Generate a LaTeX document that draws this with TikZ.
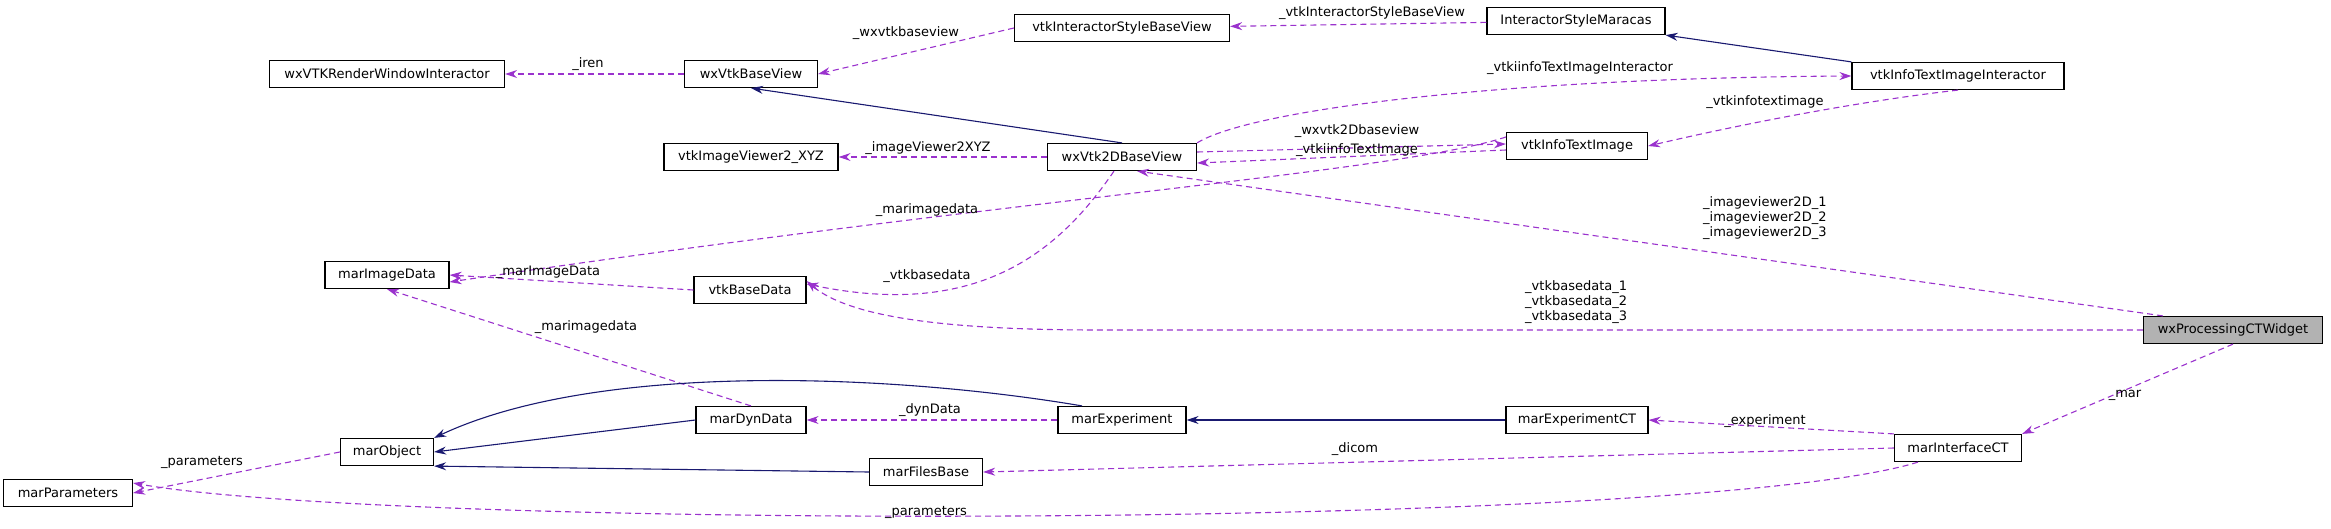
\documentclass[tikz,border=0pt]{standalone}
\usepackage{fontspec}
\setmainfont{DejaVu Sans}
\usetikzlibrary{arrows.meta}
\definecolor{dep}{HTML}{9A32CD}
\definecolor{inh}{HTML}{191970}
\begin{document}
\begin{tikzpicture}[x=1pt,y=-1pt,
  cls/.style={draw,line width=1.2pt,fill=white,minimum height=27pt,inner xsep=6pt,font=\fontsize{13}{15}\selectfont},
  lbl/.style={font=\fontsize{13}{15}\selectfont,inner sep=0pt,align=left},
  dep/.style={draw=dep,line width=1.1pt,dash pattern=on 6pt off 4pt,-{Stealth[length=12pt,width=8pt,fill=dep]}},
  inh/.style={draw=inh,line width=1.1pt,-{Stealth[length=12pt,width=8pt,fill=inh]}}]
\useasboundingbox (0,0) rectangle (2331,528);
\node[cls,minimum width=235pt] (rwi) at (387,74) {wxVTKRenderWindowInteractor};
\node[cls,minimum width=133pt] (bv) at (751,74) {wxVtkBaseView};
\node[cls,minimum width=215pt] (isbv) at (1122,28) {vtkInteractorStyleBaseView};
\node[cls,minimum width=178pt] (ism) at (1576,21) {InteractorStyleMaracas};
\node[cls,minimum width=212pt] (viti) at (1958,76) {vtkInfoTextImageInteractor};
\node[cls,minimum width=174pt] (xyz) at (751,157) {vtkImageViewer2\_XYZ};
\node[cls,minimum width=149pt] (w2d) at (1122,157) {wxVtk2DBaseView};
\node[cls,minimum width=141pt] (vti) at (1577,146) {vtkInfoTextImage};
\node[cls,minimum width=124pt] (mid) at (387,275) {marImageData};
\node[cls,minimum width=112pt] (vbd) at (750,290) {vtkBaseData};
\node[cls,minimum width=179pt,fill=black!30] (pct) at (2233,330) {wxProcessingCTWidget};
\node[cls,minimum width=110pt] (mdd) at (751,420) {marDynData};
\node[cls,minimum width=128pt] (mex) at (1122,420) {marExperiment};
\node[cls,minimum width=142pt] (mect) at (1577,420) {marExperimentCT};
\node[cls,minimum width=93pt] (mo) at (387,452) {marObject};
\node[cls,minimum width=113pt] (mfb) at (926,472) {marFilesBase};
\node[cls,minimum width=127pt] (mic) at (1958,448) {marInterfaceCT};
\node[cls,minimum width=129pt] (mp) at (68,493) {marParameters};

\draw[dep] (bv) -- (rwi);
\draw[dep] (isbv.west) -- (bv.east);
\draw[dep] (ism) -- (isbv);
\draw[inh] (viti.north west) -- (ism.south east);
\draw[inh] (w2d.north) -- (bv.south);
\draw[dep] (w2d) -- (xyz);
\draw[dep] (w2d.north east) .. controls (1250,110) and (1500,78) .. (viti.west);
\draw[dep] (viti.south) .. controls (1870,100) and (1760,120) .. (vti.east);
\draw[dep] ([yshift=-4pt]vti.west) -- ([yshift=-6pt]w2d.east);
\draw[dep] ([yshift=5pt]w2d.east) -- ([yshift=2pt]vti.west);
\draw[dep] ([yshift=9pt]vti.west) .. controls (1400,172) and (1000,200) .. ([yshift=-7pt]mid.east);
\draw[dep] ([xshift=-8pt]w2d.south) .. controls (1060,250) and (980,320) .. ([yshift=6pt]vbd.east);
\draw[dep] ([xshift=20pt]pct.north west) -- ([xshift=15pt]w2d.south);
\draw[dep] (pct.west) -- (1100,330) .. controls (950,330) and (850,318) .. ([yshift=9pt]vbd.east);
\draw[dep] (vbd.west) -- (mid.east);
\draw[dep] (mdd.north) -- ([yshift=0pt]mid.south);
\draw[inh] (mdd.west) -- (mo.east);
\draw[inh] ([xshift=-40pt]mex.north) .. controls (900,375) and (600,360) .. (mo.north east);
\draw[dep] (mex) -- (mdd);
\draw[inh] (mect) -- (mex);
\draw[dep] (mic.north west) -- (mect.east);
\draw[dep] (mic.west) -- (mfb.east);
\draw[inh] (mfb.west) -- (mo.south east);
\draw[dep] (mo.west) -- (mp.east);
\draw[dep] ([xshift=-40pt]mic.south) .. controls (1700,530) and (400,530) .. ([yshift=10pt]mp.east);
\draw[dep] (pct.south) -- (mic.north east);

\node[lbl] (l1) at (588,64) {\_iren};
\node[lbl] (l2) at (906,33) {\_wxvtkbaseview};
\node[lbl] (l3) at (1372,13) {\_vtkInteractorStyleBaseView};
\node[lbl] (l4) at (1580,68) {\_vtkiinfoTextImageInteractor};
\node[lbl] (l5) at (1765,102) {\_vtkinfotextimage};
\node[lbl] (l6) at (928,148) {\_imageViewer2XYZ};
\node[lbl] (l7) at (1357,131) {\_wxvtk2Dbaseview};
\node[lbl] (l8) at (1357,150) {\_vtkiinfoTextImage};
\node[lbl] (l9) at (927,210) {\_marimagedata};
\node[lbl,anchor=west] (l10) at (1703,218) {\_imageviewer2D\_1\\\_imageviewer2D\_2\\\_imageviewer2D\_3};
\node[lbl] (l11) at (927,276) {\_vtkbasedata};
\node[lbl,anchor=west] (l12) at (1525,302) {\_vtkbasedata\_1\\\_vtkbasedata\_2\\\_vtkbasedata\_3};
\node[lbl] (l13) at (548,272) {\_marImageData};
\node[lbl] (l14) at (586,327) {\_marimagedata};
\node[lbl] (l15) at (930,410) {\_dynData};
\node[lbl] (l16) at (1765,421) {\_experiment};
\node[lbl] (l17) at (1355,449) {\_dicom};
\node[lbl] (l18) at (2125,395) {\_mar};
\node[lbl] (l19) at (202,462) {\_parameters};
\node[lbl] (l20) at (926,512) {\_parameters};
\end{tikzpicture}
\end{document}
